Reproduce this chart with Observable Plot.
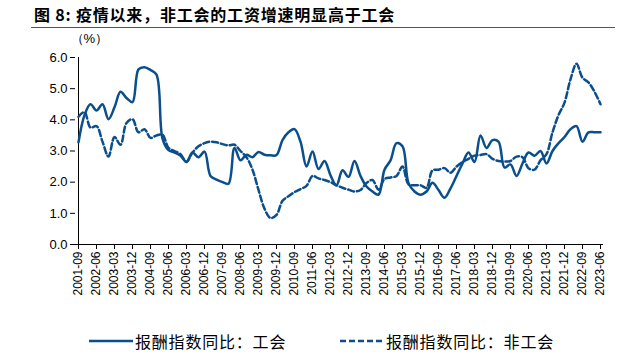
<!DOCTYPE html>
<html><head><meta charset="utf-8">
<script src="https://cdn.jsdelivr.net/npm/d3@7"></script>
<script src="https://cdn.jsdelivr.net/npm/@observablehq/plot@0.6"></script>
<style>
body{margin:0;background:#fff;width:634px;height:358px;overflow:hidden;font-family:"Liberation Sans",Arial,sans-serif;}
#title{position:relative;height:30px;}
#title span{position:absolute;left:34px;top:3px;font:bold 16px "Noto Sans CJK SC",sans-serif;letter-spacing:0.8px;color:#000;white-space:nowrap;line-height:22px;}
#title .rule{position:absolute;left:31px;right:19px;top:27px;border-top:1px solid #555;}
#chart{height:275px;}
#legend{position:relative;height:53px;font:16px "Noto Sans CJK SC",sans-serif;letter-spacing:0.8px;color:#000;}
#legend .item{position:absolute;top:25px;display:flex;align-items:center;white-space:nowrap;line-height:22px;}
#legend svg{display:block;margin-right:2px;}
</style>
</head><body>
<div id="title"><span>图 8: 疫情以来，非工会的工资增速明显高于工会</span><div class="rule"></div></div>
<div id="chart"></div>
<div id="legend"></div>
<script>
const quarters = [
"2001-09","2001-12",
"2002-03","2002-06","2002-09","2002-12",
"2003-03","2003-06","2003-09","2003-12",
"2004-03","2004-06","2004-09","2004-12",
"2005-03","2005-06","2005-09","2005-12",
"2006-03","2006-06","2006-09","2006-12",
"2007-03","2007-06","2007-09","2007-12",
"2008-03","2008-06","2008-09","2008-12",
"2009-03","2009-06","2009-09","2009-12",
"2010-03","2010-06","2010-09","2010-12",
"2011-03","2011-06","2011-09","2011-12",
"2012-03","2012-06","2012-09","2012-12",
"2013-03","2013-06","2013-09","2013-12",
"2014-03","2014-06","2014-09","2014-12",
"2015-03","2015-06","2015-09","2015-12",
"2016-03","2016-06","2016-09","2016-12",
"2017-03","2017-06","2017-09","2017-12",
"2018-03","2018-06","2018-09","2018-12",
"2019-03","2019-06","2019-09","2019-12",
"2020-03","2020-06","2020-09","2020-12",
"2021-03","2021-06","2021-09","2021-12",
"2022-03","2022-06","2022-09","2022-12",
"2023-03","2023-06"];

const union = [
3.28,4.15,4.5,4.3,4.5,4.02,4.4,4.9,4.7,4.57,
5.62,5.69,5.6,5.45,3.4,3.03,2.95,2.85,2.65,2.95,
2.8,2.98,2.2,2.08,2.0,1.95,3.1,2.7,2.88,2.8,
2.97,2.88,2.86,2.87,3.35,3.6,3.7,3.3,2.5,2.98,
2.42,2.68,2.22,1.9,2.38,2.17,2.68,2.2,1.86,1.7,
1.6,2.4,2.7,3.25,3.15,1.97,1.7,1.6,1.7,1.98,
1.75,1.5,1.8,2.2,2.6,2.95,2.65,3.5,3.1,3.35,
3.3,2.47,2.57,2.2,2.6,2.95,2.85,3.0,2.6,3.0,
3.25,3.45,3.7,3.8,3.3,3.6,3.6,3.6];

const nonUnion = [
4.1,4.25,3.75,3.8,3.3,2.82,3.45,3.2,3.9,4.02,
3.6,3.7,3.42,3.5,3.52,3.1,3.0,2.9,2.65,2.95,
3.15,3.25,3.3,3.28,3.22,3.18,3.2,3.0,2.8,2.4,
1.75,1.15,0.85,0.95,1.4,1.55,1.68,1.78,1.88,2.2,
2.12,2.07,2.0,1.9,1.82,1.76,1.7,1.75,1.97,2.07,
1.76,2.1,2.15,2.2,2.5,1.93,1.9,1.9,1.82,2.38,
2.4,2.45,2.3,2.5,2.65,2.75,2.85,2.87,2.9,2.75,
2.68,2.66,2.68,2.82,2.8,2.45,2.4,2.7,2.9,3.6,
4.15,4.55,5.3,5.8,5.35,5.2,4.9,4.5];

const xTickLabels = ["2001-09","2002-06","2003-03","2003-12","2004-09","2005-06","2006-03","2006-12",
"2007-09","2008-06","2009-03","2009-12","2010-09","2011-06","2012-03","2012-12","2013-09","2014-06",
"2015-03","2015-12","2016-09","2017-06","2018-03","2018-12","2019-09","2020-06","2021-03","2021-12",
"2022-09","2023-06"];
const yTicks = [0,1,2,3,4,5,6];
const seriesNames = ["报酬指数同比：工会","报酬指数同比：非工会"];
const yUnit = "（%）";

const blue = "#0b4e8c";
const rowsU = quarters.map((q,i)=>({quarter:q, value:union[i]}));
const rowsN = quarters.map((q,i)=>({quarter:q, value:nonUnion[i]}));

const chart = Plot.plot({
  width:634, height:275,
  marginTop:27, marginBottom:61, marginLeft:75, marginRight:31,
  style:{fontFamily:'"Liberation Sans",Arial,sans-serif', fontSize:"13px", color:"#000", background:"#fff"},
  x:{type:"point", domain:quarters, padding:0},
  y:{domain:[0,6]},
  marks:[
    Plot.ruleY([0], {stroke:"#000"}),
    Plot.ruleX([quarters[0]], {y1:0, y2:6, stroke:"#000"}),
    Plot.axisY({ticks:yTicks, tickFormat:d=>d.toFixed(1), tickSize:5, tickPadding:3, label:null, fontSize:13}),
    Plot.axisX({ticks:xTickLabels, tickRotate:-90, tickSize:5, tickPadding:2, label:null, fontSize:12}),
    Plot.line(rowsN, {x:"quarter", y:"value", stroke:blue, strokeWidth:2.5, strokeDasharray:"6,3", curve:"catmull-rom"}),
    Plot.line(rowsU, {x:"quarter", y:"value", stroke:blue, strokeWidth:2.5, curve:"catmull-rom"}),
    Plot.text([yUnit], {frameAnchor:"top-left", dx:-5, dy:-19, textAnchor:"start", lineAnchor:"middle", fontSize:13})
  ]
});
document.getElementById("chart").appendChild(chart);

const legend = document.getElementById("legend");
const items = [
  {label:seriesNames[0], dash:null, left:89},
  {label:seriesNames[1], dash:"6,3", left:340}
];
for (const it of items) {
  const d = document.createElement("div");
  d.className = "item";
  d.style.left = it.left + "px";
  d.innerHTML = `<svg width="44" height="10"><line x1="0" y1="5" x2="44" y2="5" stroke="${blue}" stroke-width="2.5" ${it.dash?`stroke-dasharray="${it.dash}"`:""}/></svg><span>${it.label}</span>`;
  legend.appendChild(d);
}
</script>
</body></html>
